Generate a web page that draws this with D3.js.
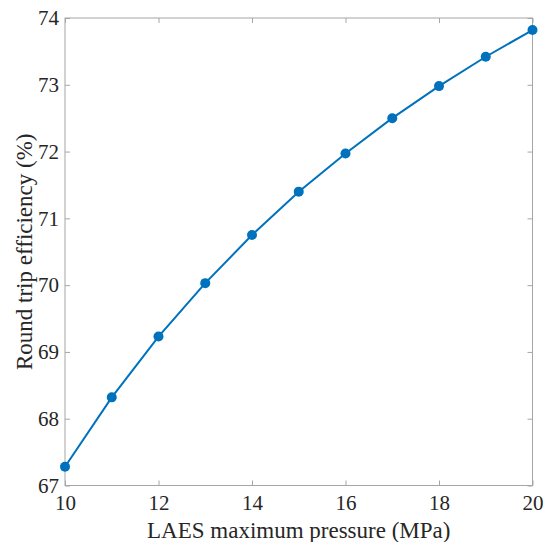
<!DOCTYPE html>
<html>
<head>
<meta charset="utf-8">
<script src="https://cdn.jsdelivr.net/npm/d3@7"></script>
<style>
  body { margin: 0; background: #fff; }
  text { font-family: "Liberation Serif", "Times New Roman", serif; fill: #262626; }
</style>
</head>
<body>
<div id="chart"></div>
<script>
// pressure (MPa) and round trip efficiency (%)
var pressure = [10, 11, 12, 13, 14, 15, 16, 17, 18, 19, 20];
var efficiency = [67.28, 68.32, 69.23, 70.03, 70.75, 71.40, 71.97, 72.50, 72.98, 73.42, 73.82];
var xTicks = [10, 12, 14, 16, 18, 20];
var yTicks = [67, 68, 69, 70, 71, 72, 73, 74];

var W = 550, H = 542;
var margin = {top: 18, right: 17.5, bottom: 56.5, left: 65},
    width = W - margin.left - margin.right,
    height = H - margin.top - margin.bottom;

var svg = d3.select("#chart").append("svg")
    .attr("width", W).attr("height", H)
  .append("g")
    .attr("transform", "translate(" + margin.left + "," + margin.top + ")");

var x = d3.scaleLinear().domain([10, 20]).range([0, width]);
var y = d3.scaleLinear().domain([67, 74]).range([height, 0]);

var axisColor = "#a6a6a6";
var fmt = d3.format("d");

// box
svg.append("rect")
  .attr("x", 0).attr("y", 0)
  .attr("width", width).attr("height", height)
  .attr("fill", "none").attr("stroke", axisColor).attr("stroke-width", 1);

function styleAxis(g) {
  g.attr("font-family", "Liberation Serif, Times New Roman, serif").attr("font-size", 21);
  g.select(".domain").remove();
  g.selectAll(".tick line").attr("stroke", axisColor);
  g.selectAll(".tick text").attr("fill", "#262626");
}

// bottom / top
svg.append("g").attr("transform", "translate(0," + height + ")")
  .call(d3.axisBottom(x).tickValues(xTicks).tickSizeInner(-5).tickPadding(10).tickFormat(fmt))
  .call(styleAxis);
svg.append("g")
  .call(d3.axisTop(x).tickValues(xTicks).tickSizeInner(-5).tickFormat(""))
  .call(styleAxis);
// left / right
svg.append("g")
  .call(d3.axisLeft(y).tickValues(yTicks).tickSizeInner(-5).tickPadding(6).tickFormat(fmt))
  .call(styleAxis);
svg.append("g").attr("transform", "translate(" + width + ",0)")
  .call(d3.axisRight(y).tickValues(yTicks).tickSizeInner(-5).tickFormat(""))
  .call(styleAxis);

var pts = pressure.map(function(p, i) { return [p, efficiency[i]]; });

svg.append("path")
  .datum(pts)
  .attr("fill", "none")
  .attr("stroke", "#0072BD")
  .attr("stroke-width", 2)
  .attr("d", d3.line().x(function(d) { return x(d[0]); }).y(function(d) { return y(d[1]); }));

svg.selectAll(".dot")
  .data(pts)
  .enter().append("circle")
  .attr("class", "dot")
  .attr("cx", function(d) { return x(d[0]); })
  .attr("cy", function(d) { return y(d[1]); })
  .attr("r", 5)
  .attr("fill", "#0072BD");

// labels
svg.append("text")
  .attr("x", width / 2).attr("y", height + 52.5)
  .attr("text-anchor", "middle")
  .attr("font-size", "23px")
  .text("LAES maximum pressure (MPa)");

svg.append("text")
  .attr("transform", "rotate(-90)")
  .attr("x", -height / 2).attr("y", -33)
  .attr("text-anchor", "middle")
  .attr("font-size", "23px")
  .text("Round trip efficiency (%)");
</script>
</body>
</html>
